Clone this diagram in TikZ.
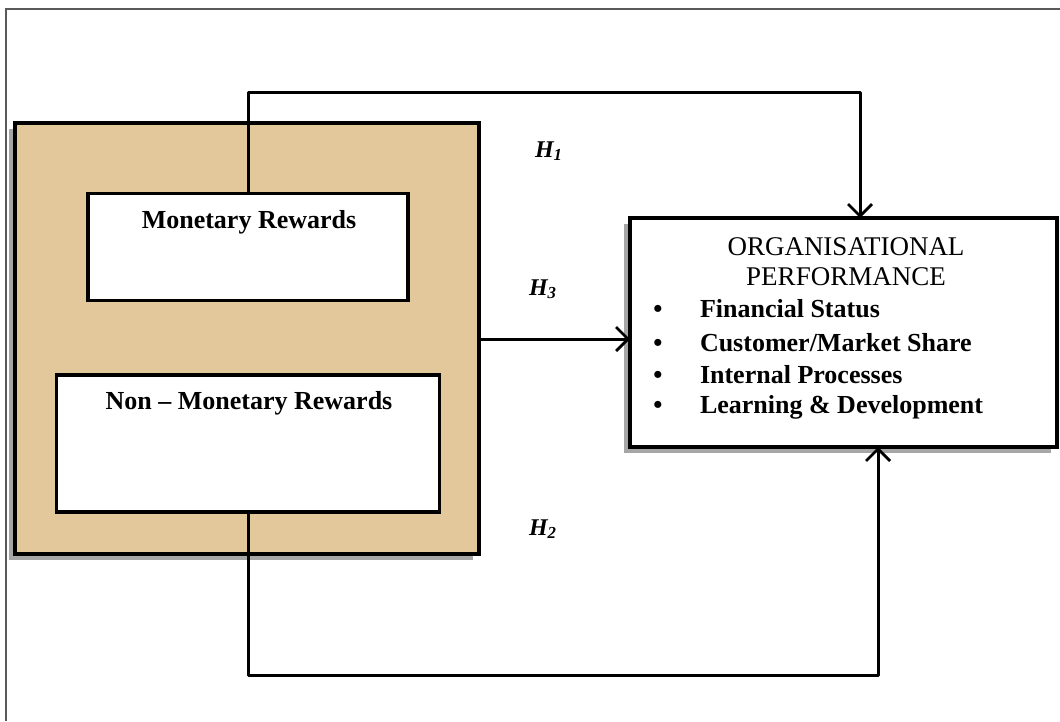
\documentclass[tikz,border=0pt]{standalone}
\usepackage{fontspec}
\setmainfont{Liberation Serif}
\usetikzlibrary{arrows.meta,shadows}
\definecolor{tanfill}{RGB}{226,200,155}
\definecolor{framegray}{RGB}{90,90,90}
\begin{document}
\begin{tikzpicture}[x=1pt,y=-1pt,
  every node/.style={inner sep=0pt,outer sep=0pt},
  boxstyle/.style={draw=black,line width=4pt,fill=white},
  shad/.style={drop shadow={shadow xshift=-6pt,shadow yshift=-6pt,fill=gray!70,opacity=1}},
  conn/.style={draw=black,line width=3pt,line join=round},
  arr/.style={conn,-{Straight Barb[length=12pt,width=24pt,line width=2.8pt]}},
  lbl/.style={font=\fontsize{26}{30}\selectfont\bfseries,anchor=base},
  ttl/.style={font=\fontsize{27}{31}\selectfont,anchor=base},
  hyp/.style={font=\fontsize{24}{28}\selectfont\bfseries\itshape,anchor=base west}
]
\useasboundingbox (0,0) rectangle (1060,721);
\fill[white] (0,0) rectangle (1060,721);
% outer frame
\draw[framegray,line width=1.5pt] (6,721) -- (6,9) -- (1060,9);

% tan container
\node[boxstyle,fill=tanfill,shad,minimum width=464pt,minimum height=431pt] (tan) at (247,338.5) {};
% inner boxes
\node[boxstyle,line width=3.5pt,minimum width=320pt,minimum height=107pt] (mon) at (248,247) {};
\node[boxstyle,line width=3.5pt,minimum width=383pt,minimum height=137pt] (non) at (248,443.5) {};
% org box
\node[boxstyle,shad,minimum width=427pt,minimum height=229pt] (org) at (843.5,332.5) {};

% texts
\node[lbl] (tmon) at (249,228) {Monetary Rewards};
\node[lbl] (tnon) at (249,409) {Non -- Monetary Rewards};
\node[ttl] (t1) at (846,255) {ORGANISATIONAL};
\node[ttl] (t2) at (846,285) {PERFORMANCE};
\foreach \yy/\txt [count=\i] in {317/{Financial Status},351/{Customer/Market Share},383/{Internal Processes},413/{Learning \& Development}}{
  \node[lbl,anchor=base] (b\i) at (658,\yy) {\textbullet};
  \node[lbl,anchor=base west] (i\i) at (700,\yy) {\txt};
}

% hypothesis labels
\node[hyp] (h1) at (535,157) {H\textsubscript{1}};
\node[hyp] (h3) at (529,295) {H\textsubscript{3}};
\node[hyp] (h2) at (529,535) {H\textsubscript{2}};

% connectors
\coordinate (ta) at (248,92);
\coordinate (tb) at (860,92);
\draw[arr] (mon.north) -- (ta) -- (tb) -- (tb |- org.north);
\coordinate (ba) at (248,675);
\coordinate (bb) at (878,675);
\draw[arr] (non.south) -- (ba) -- (bb) -- (bb |- org.south);
\coordinate (ma) at (481,339);
\draw[arr] (ma) -- (ma -| org.west);
\end{tikzpicture}
\end{document}
